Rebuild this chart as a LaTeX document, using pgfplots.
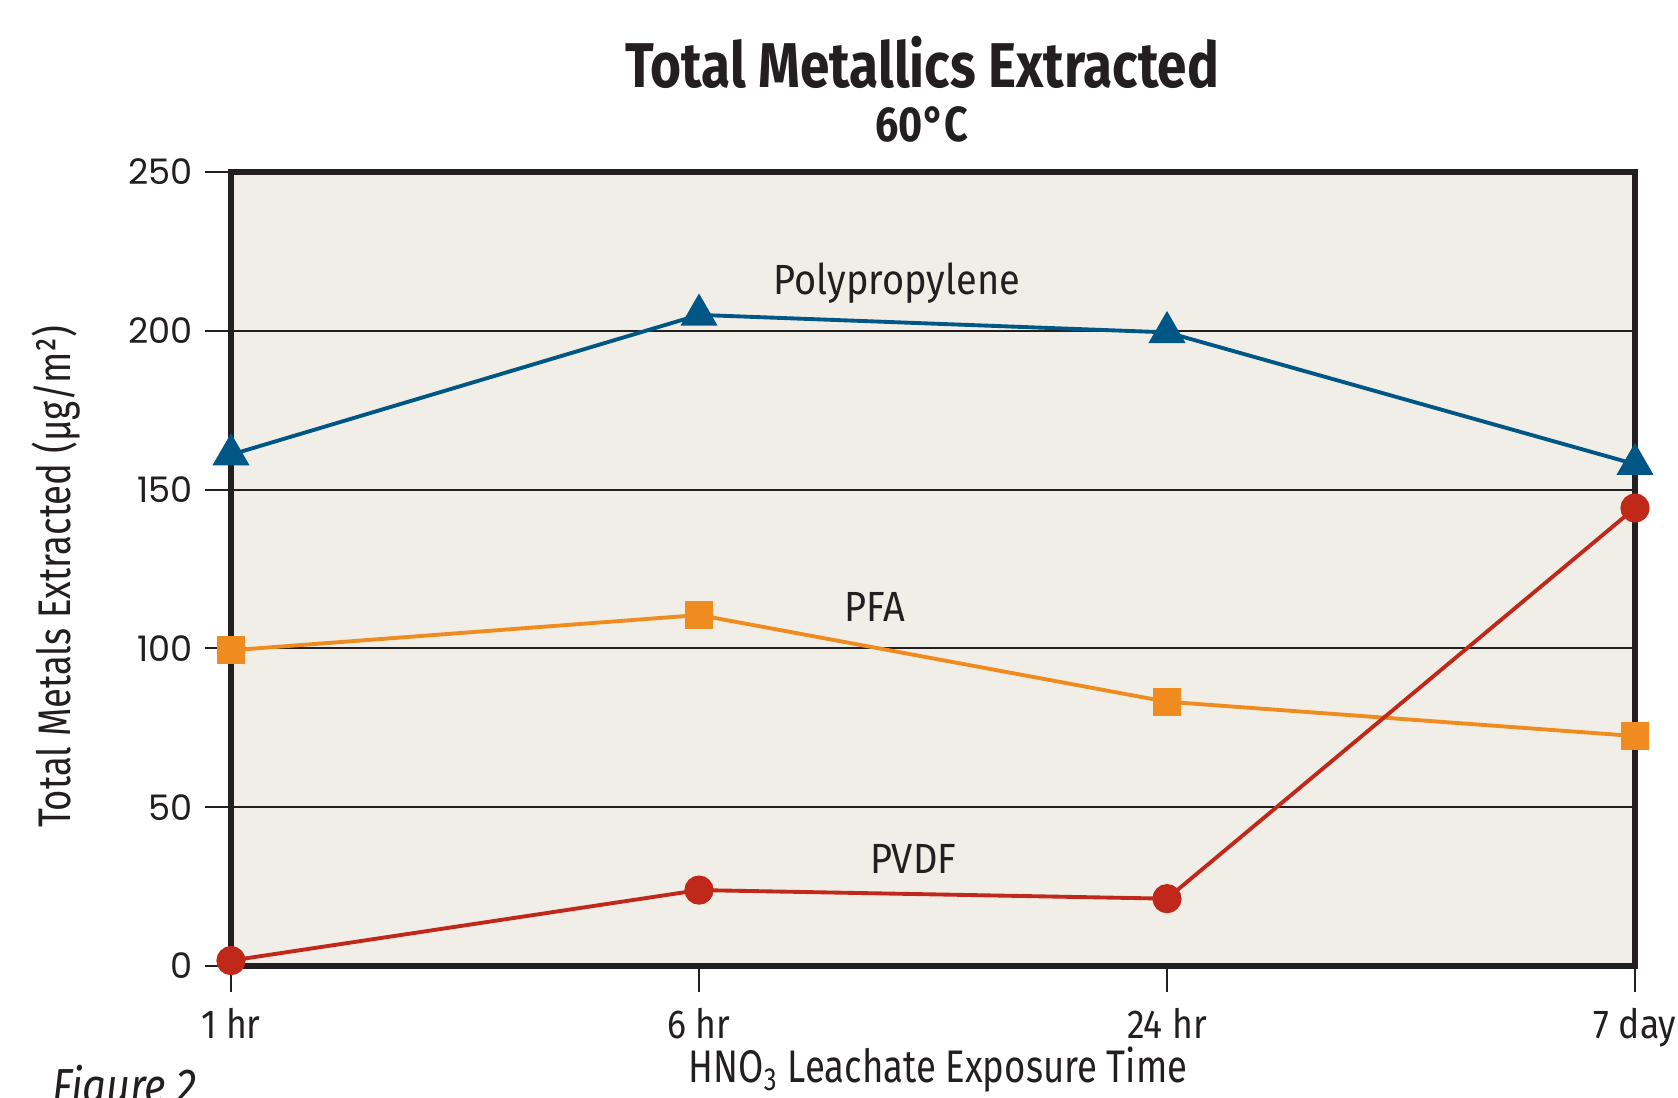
\documentclass[border=0pt]{standalone}
\usepackage{fontspec}
\setmainfont{Fira Sans}[FakeStretch=0.84]
\newfontfamily\numfont{Poppins}
\usepackage{pgfplots}
\pgfplotsset{compat=1.18}
\definecolor{ppblue}{HTML}{005685}
\definecolor{pfaorange}{HTML}{EF8B1F}
\definecolor{pvdfred}{HTML}{C0291A}
\definecolor{panel}{HTML}{F1EEE7}
\definecolor{ink}{HTML}{231F20}

\begin{document}
\begin{tikzpicture}
\useasboundingbox (0,0) rectangle (16.78cm,10.98cm);
\begin{axis}[
  at={(2.31cm,1.32cm)}, anchor=south west,
  scale only axis, width=14.04cm, height=7.94cm,
  xmin=0, xmax=3, ymin=0, ymax=250,
  xtick={0,1,2,3}, xticklabels={1 hr,6 hr,24 hr,7 day},
  ytick={0,50,...,250},
  xtick pos=bottom, ytick pos=left,
  tick align=outside, major tick length=0.26cm,
  tick style={ink, line width=0.6pt},
  axis line style={ink, line width=1.6pt},
  axis background/.style={fill=panel},
  ymajorgrids, grid style={ink, line width=0.6pt},
  clip=false,
  /pgf/number format/assume math mode=true,
  yticklabel style={font=\numfont\fontsize{10}{12}\selectfont, color=ink},
  xticklabel style={font=\fontsize{11.5}{13}\selectfont\addfontfeature{FakeStretch=0.88}, color=ink, yshift=-0.04cm},
  xlabel={HNO\textsubscript{3} Leachate Exposure Time},
  ylabel={Total Metals Extracted (µg/m²)},
  xlabel style={font=\fontsize{13}{15}\selectfont\addfontfeature{FakeStretch=0.8}, color=ink, at={(axis description cs:0.5036,-0.131)}, anchor=center},
  ylabel style={font=\fontsize{13}{15}\selectfont\addfontfeature{FakeStretch=0.8}, color=ink, at={(axis description cs:-0.1246,0.49)}, anchor=center},
]
\addplot[ppblue, line width=1.1pt, mark=triangle*, mark size=5pt, mark options={fill=ppblue, draw=ppblue}]
  coordinates {(0,161) (1,205) (2,199.5) (3,158)};
\addplot[pfaorange, line width=1.1pt, mark=square*, mark size=3.4pt, mark options={fill=pfaorange, draw=pfaorange}]
  coordinates {(0,99.4) (1,110.5) (2,83.2) (3,72.4)};
\addplot[pvdfred, line width=1.1pt, mark=*, mark size=3.6pt, mark options={fill=pvdfred, draw=pvdfred}]
  coordinates {(0,1.7) (1,23.9) (2,21.2) (3,144.2)};
\node[font=\fontsize{12}{14}\selectfont\addfontfeature{FakeStretch=0.9}, color=ink] at (axis cs:1.423,215) {Polypropylene};
\node[font=\fontsize{12}{14}\selectfont\addfontfeature{FakeStretch=0.9}, color=ink] at (axis cs:1.375,113) {PFA};
\node[font=\fontsize{12}{14}\selectfont\addfontfeature{FakeStretch=0.9}, color=ink] at (axis cs:1.458,33.7) {PVDF};
\end{axis}
\node[font=\bfseries\fontsize{18}{21}\selectfont, color=ink] at (9.22cm,10.36cm) {Total Metallics Extracted};
\node[font=\bfseries\fontsize{14}{16}\selectfont, color=ink] at (9.22cm,9.74cm) {60°C};
\node[font=\itshape\fontsize{14}{16}\selectfont, color=ink, anchor=base west] at (0.40cm,-0.06cm) {Figure 2};
\end{tikzpicture}
\end{document}
